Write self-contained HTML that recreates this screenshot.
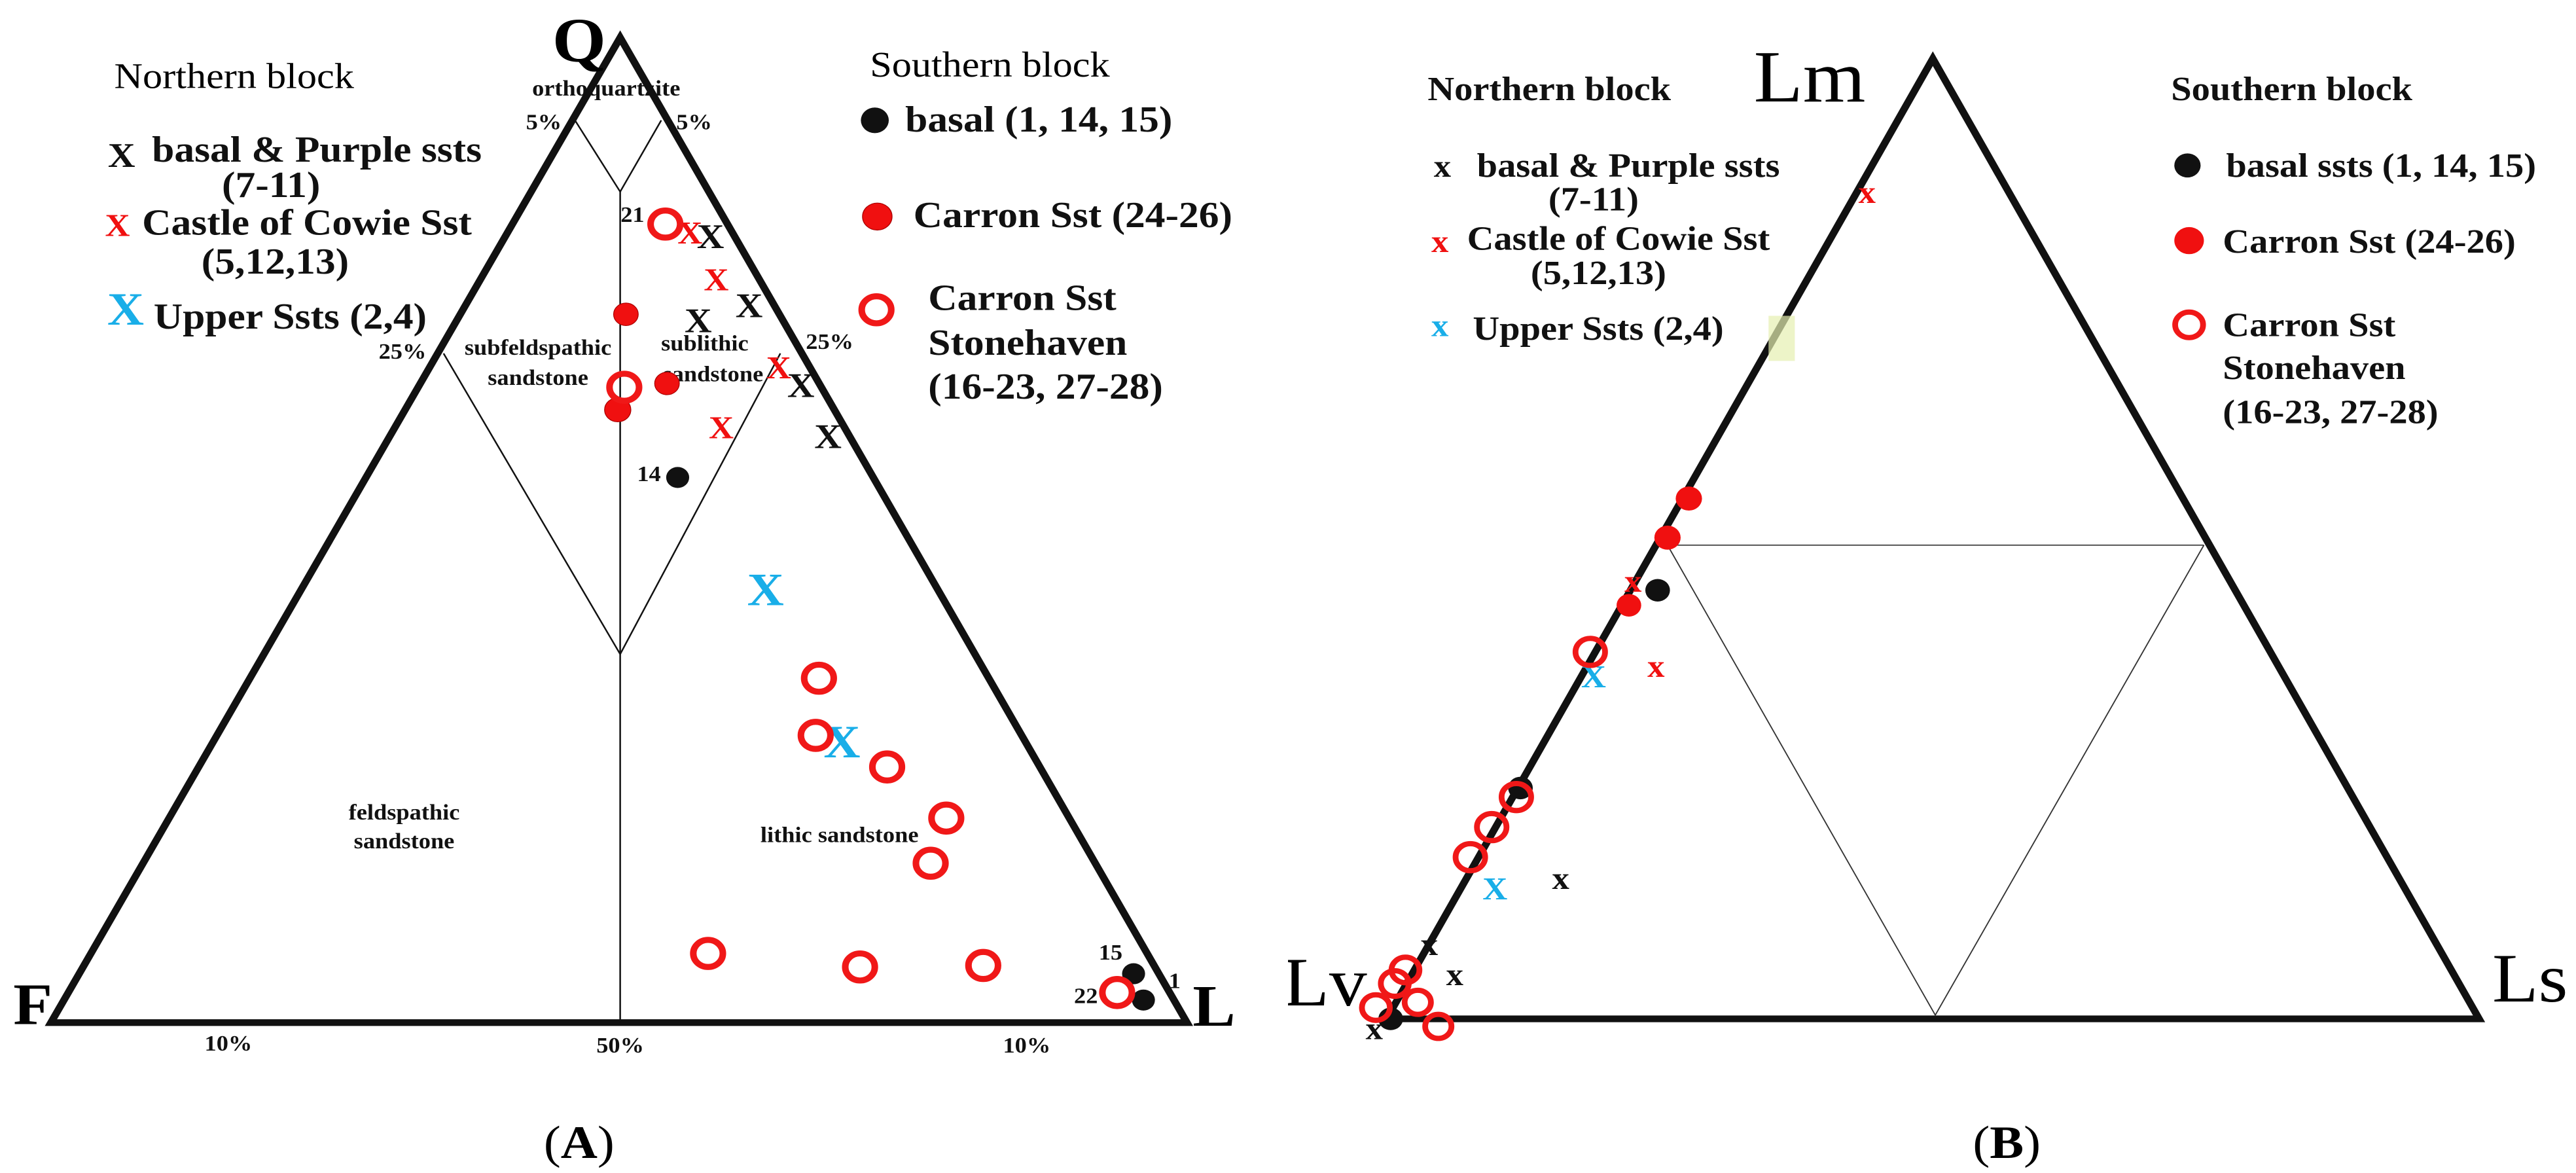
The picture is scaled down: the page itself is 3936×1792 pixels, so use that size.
<!DOCTYPE html>
<html><head><meta charset="utf-8"><style>
html,body{margin:0;padding:0;background:#fff;width:3936px;height:1792px;overflow:hidden}
svg{position:absolute;top:0}
text{font-family:"Liberation Serif",serif}
.b{font-weight:bold}
</style></head><body>
<svg style="left:0" width="1968" height="1792" viewBox="0 0 1568 1560" preserveAspectRatio="none">
<g fill="none" stroke="#111">
<polygon points="755,50 62,1360 1445,1360" stroke-width="9" stroke-linejoin="miter"/>
<polyline points="700,160 755,255 805,160" stroke-width="2"/>
<line x1="755" y1="255" x2="755" y2="1360" stroke-width="2"/>
<polyline points="540,470 755,870 950,470" stroke-width="2"/>
</g>
<g class="b" font-size="29" fill="#111" text-anchor="middle">
<text x="738" y="127">orthoquartzite</text>
<text x="662" y="172">5%</text><text x="845" y="172">5%</text>
<text x="490" y="477">25%</text><text x="1010" y="464">25%</text>
<text x="655" y="472">subfeldspathic</text><text x="655" y="512">sandstone</text>
<text x="858" y="466">sublithic</text><text x="868" y="507">sandstone</text>
<text x="492" y="1090">feldspathic</text><text x="492" y="1128">sandstone</text>
<text x="1022" y="1120">lithic sandstone</text>
<text x="278" y="1397">10%</text><text x="755" y="1400">50%</text><text x="1250" y="1400">10%</text>
<text x="770" y="295">21</text><text x="790" y="640">14</text><text x="1352" y="1276">15</text><text x="1430" y="1314">1</text><text x="1322" y="1334">22</text>
</g>
<text x="705" y="82" font-size="84" class="b" text-anchor="middle">Q</text>
<text x="40" y="1362" font-size="78" class="b" text-anchor="middle">F</text>
<text x="1478" y="1364" font-size="78" class="b" text-anchor="middle">L</text>
<text x="705" y="1540" font-size="62" text-anchor="middle">(<tspan class="b">A</tspan>)</text>
<text x="285" y="117" font-size="48" text-anchor="middle">Northern block</text>
<text x="1205" y="102" font-size="48" text-anchor="middle">Southern block</text>
<g class="b" font-size="49" fill="#111">
<text x="185" y="215">basal &amp; Purple ssts</text>
<text x="330" y="262" text-anchor="middle">(7-11)</text>
<text x="173" y="312">Castle of Cowie Sst</text>
<text x="335" y="364" text-anchor="middle">(5,12,13)</text>
<text x="187" y="437">Upper Ssts (2,4)</text>
<text x="1102" y="175">basal (1, 14, 15)</text>
<text x="1112" y="302">Carron Sst (24-26)</text>
<text x="1130" y="412">Carron Sst</text>
<text x="1130" y="472">Stonehaven</text>
<text x="1130" y="530">(16-23, 27-28)</text>
</g>
<g class="b" text-anchor="middle">
<g fill="#111" font-size="46"><text x="148" y="222">X</text><text x="865" y="330">X</text><text x="912" y="422">X</text><text x="850" y="442">X</text><text x="975" y="528">X</text><text x="1008" y="596">X</text></g>
<g fill="#f01010" font-size="42"><text x="143" y="314">X</text><text x="840" y="324">X</text><text x="872" y="386">X</text><text x="948" y="503">X</text><text x="878" y="583">X</text></g>
<g fill="#19aee8" font-size="62"><text x="153" y="432">X</text><text x="932" y="805">X</text><text x="1025" y="1007">X</text></g>
</g>
<g fill="#111"><circle cx="1065" cy="160" r="17"/><circle cx="825" cy="635" r="14"/><circle cx="1380" cy="1295" r="14"/><circle cx="1392" cy="1330" r="14"/></g>
<g fill="#f01010" stroke="#a00" stroke-width="1"><circle cx="1068" cy="288" r="18"/><circle cx="762" cy="418" r="15"/><circle cx="812" cy="510" r="15"/><circle cx="752" cy="545" r="16"/></g>
<g fill="none" stroke="#f01818" stroke-width="8">
<circle cx="1067" cy="412" r="18"/><circle cx="810" cy="298" r="18"/><circle cx="760" cy="515" r="18"/><circle cx="997" cy="902" r="18"/><circle cx="993" cy="978" r="18"/><circle cx="1080" cy="1020" r="18"/><circle cx="1152" cy="1088" r="18"/><circle cx="1133" cy="1148" r="18"/><circle cx="862" cy="1268" r="18"/><circle cx="1047" cy="1286" r="18"/><circle cx="1197" cy="1284" r="18"/><circle cx="1360" cy="1320" r="18"/>
</g>
</svg>
<svg style="left:1968px" width="1968" height="1792" viewBox="0 0 1568 1560" preserveAspectRatio="none">
<polygon points="785,78 120,1355 1450,1355" fill="none" stroke="#111" stroke-width="9"/>
<g stroke="#333" stroke-width="1.5" fill="none"><line x1="462" y1="725" x2="1115" y2="725"/><polyline points="462,725 788,1350 1115,725"/></g>
<rect x="585" y="420" width="32" height="60" fill="#e6f0b0" opacity="0.7"/>
<text x="635" y="135" font-size="98" text-anchor="middle">Lm</text>
<text x="45" y="1337" font-size="92" text-anchor="middle">Lv</text>
<text x="1512" y="1332" font-size="92" text-anchor="middle">Ls</text>
<text x="875" y="1540" font-size="62" text-anchor="middle">(<tspan class="b">B</tspan>)</text>
<g class="b" font-size="45" fill="#111">
<text x="170" y="133">Northern block</text>
<text x="230" y="235">basal &amp; Purple ssts</text>
<text x="372" y="280" text-anchor="middle">(7-11)</text>
<text x="218" y="332">Castle of Cowie Sst</text>
<text x="378" y="378" text-anchor="middle">(5,12,13)</text>
<text x="225" y="452">Upper Ssts (2,4)</text>
<text x="1075" y="133">Southern block</text>
<text x="1142" y="235">basal ssts (1, 14, 15)</text>
<text x="1138" y="336">Carron Sst (24-26)</text>
<text x="1138" y="447">Carron Sst</text>
<text x="1138" y="504">Stonehaven</text>
<text x="1138" y="563">(16-23, 27-28)</text>
</g>
<g class="b" text-anchor="middle" font-size="42">
<g fill="#111"><text x="188" y="235">x</text><text x="332" y="1182">x</text><text x="172" y="1270">x</text><text x="203" y="1310">x</text><text x="105" y="1382">x</text></g>
<g fill="#f01010"><text x="185" y="335">x</text><text x="705" y="270">x</text><text x="448" y="900">x</text><text x="420" y="787">x</text></g>
<g fill="#19aee8"><text x="185" y="447">x</text><text x="372" y="914">X</text><text x="252" y="1196">X</text></g>
</g>
<g fill="#111"><circle cx="1095" cy="220" r="16"/><circle cx="450" cy="785" r="15"/><circle cx="283" cy="1048" r="15"/><circle cx="125" cy="1355" r="15"/></g>
<g fill="#f01010"><circle cx="1097" cy="320" r="18"/><circle cx="488" cy="663" r="16"/><circle cx="462" cy="715" r="16"/><circle cx="415" cy="805" r="15"/></g>
<g fill="none" stroke="#f01818" stroke-width="7">
<circle cx="1097" cy="432" r="17"/><circle cx="368" cy="867" r="18"/><circle cx="278" cy="1060" r="18"/><circle cx="248" cy="1100" r="18"/><circle cx="222" cy="1140" r="18"/><circle cx="143" cy="1290" r="17"/><circle cx="130" cy="1308" r="17"/><circle cx="107" cy="1340" r="17"/><circle cx="158" cy="1333" r="16"/><circle cx="183" cy="1365" r="16"/>
</g>
</svg>
</body></html>
